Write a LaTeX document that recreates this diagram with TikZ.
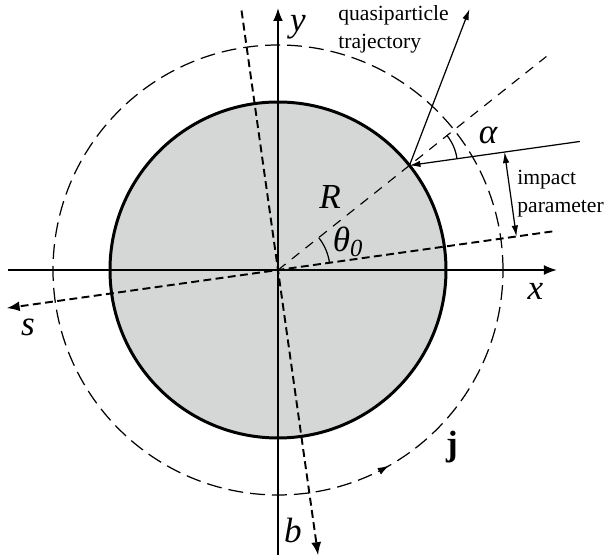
\documentclass[tikz,border=0pt]{standalone}
\usepackage{fontspec}
\setmainfont{LiberationSerif}[Extension=.ttf, UprightFont=*-Regular, ItalicFont=*-Italic, BoldFont=*-Bold, BoldItalicFont=*-BoldItalic]
\usetikzlibrary{arrows.meta,calc}
\definecolor{disk}{RGB}{213,215,215}
\begin{document}
\begin{tikzpicture}[
  lbl/.style={font=\fontsize{20}{20}\selectfont\itshape, inner sep=0pt},
  txt/.style={font=\fontsize{12.3}{16}\selectfont, align=left, inner sep=0pt, anchor=west},
  mainaxis/.style={line width=1.1pt},
  rotaxis/.style={line width=1.1pt, dash pattern=on 4.5pt off 2.5pt},
  thinline/.style={line width=0.7pt},
  circdash/.style={line width=0.7pt, dash pattern=on 8.5pt off 4pt},
  raddash/.style={line width=0.65pt, dash pattern=on 5.5pt off 4.5pt},
  bigtip/.style={-{Latex[length=2.6mm,width=2mm]}},
  smalltip/.style={-{Latex[length=2.2mm,width=1.3mm]}}
]
\useasboundingbox (-5.56,-5.78) rectangle (6.64,5.40);
\coordinate (O) at (0,0);
% disk
\fill[disk] (O) circle (3.36);
% dashed current circle
\draw[circdash] (O) circle (4.5);
\draw[line width=0.6pt, -{Latex[length=2.2mm,width=1.5mm]}] (-62:4.5) arc (-62:-60.5:4.5);
% main axes
\coordinate (xl) at (-5.4,0);
\coordinate (xr) at (5.58,0);
\coordinate (yb) at (0,-5.7);
\coordinate (yt) at (0,5.24);
\draw[mainaxis,bigtip] (xl) -- (xr);
\draw[mainaxis,bigtip] (yb) -- (yt);
% rotated axes
\coordinate (sr) at (8:5.54);
\coordinate (sl) at (188:5.48);
\coordinate (bt) at (98:5.24);
\coordinate (bb) at (-82:5.76);
\draw[rotaxis,bigtip] (sr) -- (sl);
\draw[rotaxis,bigtip] (bt) -- (bb);
% disk border
\draw[line width=1.7pt] (O) circle (3.36);
% hit point and radial line
\coordinate (H) at (38.5:3.36);
\coordinate (re) at (38.5:6.86);
\draw[raddash] (O) -- (re);
% trajectory
\coordinate (in) at ($(H)+(8:3.44)$);
\coordinate (out) at ($(H)+(69:3.35)$);
\draw[thinline,smalltip] (in) -- (H);
\draw[thinline,smalltip] (H) -- (out);
% angle arcs
\draw[thinline] ($(H)+(8:0.96)$) arc (8:38.5:0.96);
\draw[thinline] (8:1.04) arc (8:38.5:1.04);
% impact parameter
\coordinate (p1) at ($(H)+(8:1.92)$);
\coordinate (p2) at ($(O)!(p1)!(sr)$);
\draw[thinline,{Latex[length=2.2mm,width=1.3mm]}-{Latex[length=2.2mm,width=1.3mm]}] (p1) -- (p2);
% labels
\node[lbl] (lx) at (5.15,-0.42) {x};
\node[lbl] (ly) at (0.4,4.86) {y};
\node[lbl] (ls) at (-5.0,-1.14) {s};
\node[lbl] (lb) at (0.3,-5.2) {b};
\node[lbl] (lR) at (1.04,1.46) {R};
\node[lbl] (lth) at (1.4,0.56) {θ\textsubscript{0}};
\node[lbl] (lal) at (4.2,2.7) {α};
\node[font=\fontsize{20}{20}\selectfont\bfseries, inner sep=0pt] (lj) at (3.48,-3.54) {j};
\node[txt] (lq) at (1.2,4.82) {quasiparticle\\trajectory};
\node[txt] (li) at (4.78,1.52) {impact\\parameter};
\end{tikzpicture}
\end{document}
